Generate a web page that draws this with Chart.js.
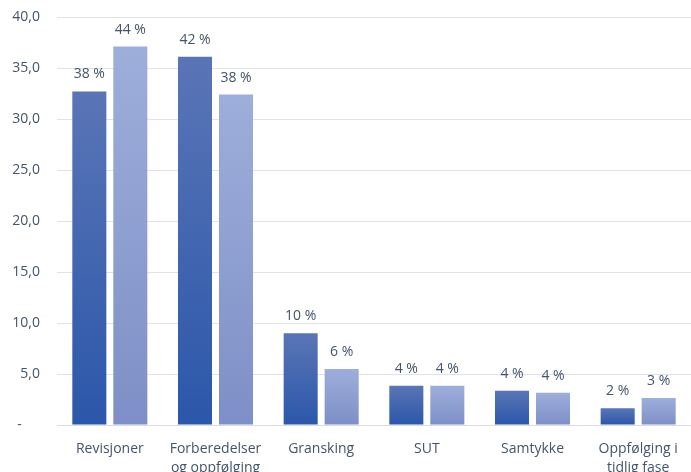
<!DOCTYPE html>
<html>
<head>
<meta charset="utf-8">
<script src="https://cdn.jsdelivr.net/npm/chart.js@4"></script>
<style>
  html, body { margin: 0; padding: 0; background: #fff; }
  #wrap { width: 691px; height: 472px; }
</style>
</head>
<body>
<div id="wrap"><canvas id="chart"></canvas></div>
<script>
const categories = ["Revisjoner", ["Forberedelser", "og oppfølging"], "Gransking", "SUT", "Samtykke", ["Oppfølging i", "tidlig fase"]];
const seriesA = [32.7, 36.1, 9.0, 3.85, 3.35, 1.65];
const seriesB = [37.1, 32.4, 5.5, 3.85, 3.15, 2.65];
const labelsA = ["38 %", "42 %", "10 %", "4 %", "4 %", "2 %"];
const labelsB = ["44 %", "38 %", "6 %", "4 %", "4 %", "3 %"];
const yTicks = [0, 5, 10, 15, 20, 25, 30, 35, 40];

const TEXT = "#44546a";
const FONT = "'Open Sans', 'Noto Sans', sans-serif";

function barGradient(top, bottom) {
  return function (context) {
    const chart = context.chart;
    const y = chart.scales.y;
    if (!y || context.raw === undefined) return bottom;
    const yTop = y.getPixelForValue(context.raw);
    const yBase = y.getPixelForValue(0);
    if (!isFinite(yTop) || !isFinite(yBase) || yTop === yBase) return bottom;
    const g = chart.ctx.createLinearGradient(0, yTop, 0, yBase);
    g.addColorStop(0, top);
    g.addColorStop(1, bottom);
    return g;
  };
}

// draws the percent text above each bar
const valueLabels = {
  id: "valueLabels",
  afterDatasetsDraw(chart) {
    const ctx = chart.ctx;
    ctx.save();
    ctx.font = "14px " + FONT;
    ctx.fillStyle = TEXT;
    ctx.textAlign = "center";
    ctx.textBaseline = "middle";
    chart.data.datasets.forEach((ds, i) => {
      chart.getDatasetMeta(i).data.forEach((bar, j) => {
        ctx.fillText(ds.pctLabels[j], bar.x, bar.y - 17);
      });
    });
    ctx.restore();
  },
};

new Chart(document.getElementById("chart"), {
  type: "bar",
  data: {
    labels: categories,
    datasets: [
      {
        label: "A",
        data: seriesA,
        pctLabels: labelsA,
        backgroundColor: barGradient("#5a75b6", "#2b57aa"),
        barPercentage: 0.83,
        categoryPercentage: 0.776,
      },
      {
        label: "B",
        data: seriesB,
        pctLabels: labelsB,
        backgroundColor: barGradient("#9eaedb", "#7d8fc6"),
        barPercentage: 0.83,
        categoryPercentage: 0.776,
      },
    ],
  },
  options: {
    responsive: true,
    maintainAspectRatio: false,
    animation: false,
    layout: { padding: { top: 17, right: 0, left: 0, bottom: 0 } },
    plugins: { legend: { display: false }, tooltip: { enabled: false } },
    scales: {
      x: {
        grid: { display: false },
        border: { color: "#d9dce4", width: 1 },
        ticks: { color: TEXT, font: { family: FONT, size: 14, lineHeight: 1.4 }, padding: 6, maxRotation: 0 },
        afterFit: (scale) => { scale.height = 47; },
      },
      y: {
        min: 0,
        max: 40,
        afterBuildTicks: (scale) => { scale.ticks = yTicks.map((v) => ({ value: v })); },
        grid: { color: "#dfe2ea", lineWidth: 1, drawTicks: false },
        border: { display: false },
        ticks: {
          color: TEXT,
          font: { family: FONT, size: 14 },
          padding: 17,
          callback: (v) => (v === 0 ? "-     " : v.toFixed(1).replace(".", ",")),
        },
        afterFit: (scale) => {
          scale.width = 57;
          scale.paddingTop = 0;
          scale.paddingBottom = 0;
        },
      },
    },
  },
  plugins: [valueLabels],
});
</script>
</body>
</html>
